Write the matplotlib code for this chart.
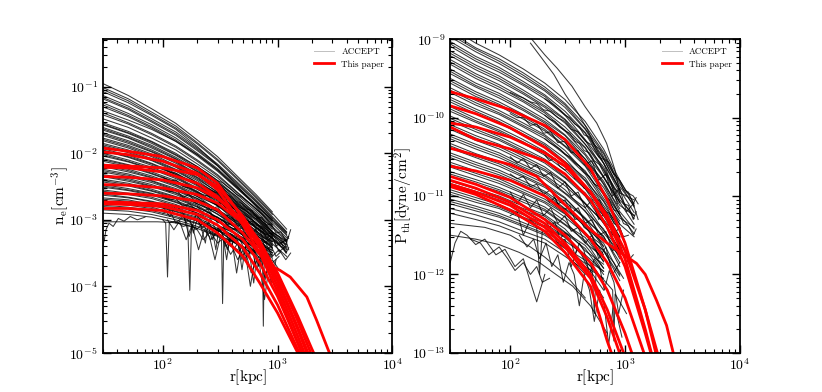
import numpy as np
import matplotlib
matplotlib.use("Agg")
import matplotlib.pyplot as plt
from matplotlib.lines import Line2D

plt.rcParams.update({
    "font.family": "serif",
    "font.serif": ["cmr10"],
    "mathtext.fontset": "cm",
    "axes.formatter.use_mathtext": True,
    "axes.unicode_minus": False,
})
nan = np.nan

# ---------------- ACCEPT density profiles (log10 n_e [cm^-3]) ----------------
accept_r = [30, 50, 80, 130, 200, 300, 450, 650, 900, 1200]
accept_logne = [
    [-0.95, -1.13, -1.33, -1.55, -1.80, -2.05, -2.35, -2.62, -2.88, nan],
    [-1.01, -1.18, -1.38, -1.59, -1.84, -2.09, -2.38, -2.65, -2.90, -3.14],
    [-1.04, -1.21, -1.41, -1.62, -1.86, -2.11, -2.40, -2.67, -2.92, nan],
    [-1.07, -1.24, -1.43, -1.64, -1.90, -2.18, -2.50, -2.80, -3.10, nan],
    [-1.13, -1.29, -1.48, -1.68, -1.92, -2.16, -2.44, -2.70, -2.95, -3.18],
    [-1.16, -1.32, -1.51, -1.71, -1.94, -2.18, -2.46, -2.72, -2.97, -3.19],
    [-1.18, -1.34, -1.53, -1.73, -1.96, -2.19, -2.48, -2.73, -2.98, nan],
    [-1.24, -1.40, -1.57, -1.77, -2.00, -2.23, -2.51, -2.76, -3.00, -3.22],
    [-1.27, -1.43, -1.60, -1.80, -2.02, -2.25, -2.53, -2.78, -3.01, nan],
    [-1.30, -1.45, -1.62, -1.82, -2.04, -2.27, -2.54, -2.79, -3.02, nan],
    [-1.36, -1.50, -1.64, -1.82, -2.02, -2.25, -2.52, -2.78, -3.00, -3.20],
    [-1.39, -1.54, -1.70, -1.89, -2.10, -2.32, -2.59, -2.83, -3.06, -3.27],
    [-1.42, -1.56, -1.72, -1.91, -2.12, -2.34, -2.60, -2.84, -3.07, nan],
    [-1.48, -1.61, -1.77, -1.95, -2.16, -2.37, -2.63, -2.87, -3.10, -3.30],
    [-1.54, -1.67, -1.82, -2.00, -2.20, -2.41, -2.67, -2.90, -3.12, -3.32],
    [-1.56, -1.69, -1.83, -2.02, -2.20, -2.44, -2.66, -2.93, -3.10, nan],
    [-1.57, -1.70, -1.85, -2.03, -2.23, -2.43, -2.69, -2.95, -3.14, nan],
    [-1.61, -1.74, -1.88, -2.06, -2.25, -2.46, -2.71, -2.92, -3.18, -3.34],
    [-1.63, -1.76, -1.90, -2.08, -2.27, -2.45, -2.74, -2.93, -3.19, -3.32],
    [-1.65, -1.77, -1.92, -2.09, -2.28, -2.48, -2.76, -2.95, -3.17, nan],
    [-1.69, -1.81, -1.95, -2.12, -2.31, -2.51, -2.75, -2.99, -3.18, -3.40],
    [-1.71, -1.83, -1.97, -2.13, -2.33, -2.50, -2.79, -2.96, -3.22, nan],
    [-1.73, -1.85, -1.98, -2.15, -2.33, -2.55, -2.77, -2.99, -3.23, nan],
    [-1.77, -1.88, -2.01, -2.18, -2.36, -2.55, -2.82, -3.01, -3.22, -3.37],
    [-1.79, -1.90, -2.03, -2.20, -2.37, -2.59, -2.78, -3.05, -3.20, -3.44],
    [-1.81, -1.92, -2.05, -2.21, -2.39, -2.58, -2.81, -3.06, -3.23, nan],
    [-1.85, -1.95, -2.08, -2.24, -2.41, -2.62, -2.83, -3.05, -3.28, -3.42],
    [-1.87, -1.97, -2.10, -2.25, -2.44, -2.60, -2.87, -3.04, -3.29, nan],
    [-1.89, -1.99, -2.11, -2.27, -2.44, -2.63, -2.88, -3.07, -3.26, nan],
    [-1.93, -2.03, -2.15, -2.30, -2.47, -2.65, -2.88, -3.12, -3.28, -3.48],
    [-1.95, -2.05, -2.16, -2.32, -2.47, -2.69, -2.87, -3.12, -3.27, -3.50],
    [-1.96, -2.06, -2.18, -2.32, -2.49, -2.70, -2.90, -3.10, -3.33, nan],
    [-2.00, -2.10, -2.21, -2.35, -2.52, -2.70, -2.95, -3.12, -3.31, -3.45],
    [-2.02, -2.12, -2.23, -2.36, -2.54, -2.69, -2.96, -3.11, -3.36, nan],
    [-2.04, -2.13, -2.24, -2.38, -2.54, -2.72, -2.94, -3.17, -3.33, nan],
    [-2.08, -2.17, -2.28, -2.41, -2.57, -2.78, -2.96, -3.16, -3.38, nan],
    [-2.10, -2.18, -2.30, -2.43, -2.58, -2.79, -2.95, -3.21, -3.33, nan],
    [-2.12, -2.20, -2.31, -2.44, -2.60, -2.77, -3.01, -3.18, -3.36, -3.55],
    [-2.16, -2.24, -2.34, -2.47, -2.62, -2.79, -3.00, -3.24, -3.38, nan],
    [-2.18, -2.26, -2.36, -2.48, -2.65, -2.78, -3.05, -3.19, -3.42, nan],
    [-2.20, -2.28, -2.37, -2.50, -2.65, -2.85, -3.02, -3.22, -3.43, nan],
    [-2.24, -2.31, -2.41, -2.53, -2.68, -2.84, -3.07, -3.23, -3.41, nan],
    [-2.26, -2.33, -2.42, -2.55, -2.68, -2.88, -3.03, -3.28, -3.39, nan],
    [-2.28, -2.35, -2.44, -2.56, -2.70, -2.87, -3.06, -3.29, -3.46, nan],
    [-2.32, -2.38, -2.47, -2.59, -2.73, -2.92, -3.09, -3.27, nan, nan],
    [-2.34, -2.40, -2.49, -2.60, -2.76, -2.88, -3.14, -3.26, -3.50, nan],
    [-2.35, -2.42, -2.50, -2.62, -2.76, -2.91, -3.15, -3.29, -3.50, nan],
    [-2.39, -2.45, -2.54, -2.65, -2.78, -2.97, -3.13, -3.35, nan, nan],
    [-2.41, -2.47, -2.56, -2.66, -2.80, -2.97, -3.12, -3.36, -3.46, nan],
    [-2.43, -2.49, -2.57, -2.68, -2.81, -2.96, -3.19, -3.33, -3.53, nan],
    [-2.47, -2.53, -2.60, -2.71, -2.84, -3.02, -3.17, -3.39, nan, nan],
    [-2.49, -2.55, -2.61, -2.73, -2.84, -3.03, -3.16, -3.40, -3.49, nan],
    [-2.51, -2.56, -2.63, -2.74, -2.86, -3.01, -3.23, -3.36, -3.56, nan],
    [-2.55, -2.60, -2.66, -2.77, -2.90, -3.02, -3.25, -3.36, -3.58, nan],
    [-2.57, -2.62, -2.68, -2.79, -2.90, -3.08, -3.22, -3.44, nan, nan],
    [-2.61, -2.66, -2.72, -2.81, -2.93, -3.09, -3.22, -3.45, -3.53, nan],
    [-2.63, -2.67, -2.73, -2.83, -2.94, -3.08, -3.29, -3.42, nan, nan],
    [-2.67, -2.70, -2.77, -2.87, -2.96, -3.13, -3.26, -3.48, nan, nan],
    [-2.69, -2.72, -2.78, -2.88, -2.98, -3.16, -3.28, -3.50, nan, nan],
    [-2.72, -2.76, -2.81, -2.91, -3.00, -3.16, -3.29, -3.50, nan, nan],
    [-2.74, -2.78, -2.83, -2.92, -3.02, -3.15, -3.37, nan, nan, nan],
    [-2.78, -2.81, -2.86, -2.95, -3.05, -3.15, -3.38, -3.47, nan, nan],
    [-2.80, -2.83, -2.88, -2.97, -3.06, -3.23, -3.35, -3.55, nan, nan],
    [-2.85, -2.87, -2.92, -3.00, -3.10, -3.24, -3.36, -3.56, nan, nan],
    [-2.90, -2.92, -2.96, -3.04, -3.13, -3.25, -3.45, nan, nan, nan],
]
# noisier ACCEPT density profiles, each with its own radii
accept_ne_noisy_r = [
    [100, 115, 130, 150, 170, 195, 225, 260, 300, 340, 390, 450, 515, 590, 680, 780, 900, 1030, 1180],
    [100, 115, 130, 150, 170, 195, 225, 260, 300, 340, 390, 450, 515, 590, 680, 780, 900, 1030],
    [100, 106, 110, 114, 130, 150, 165, 172, 178, 195, 225, 260, 300, 325, 332, 340, 390, 450, 515, 590, 680, 740, 752, 765, 900, 1030],
    [100, 115, 130, 150, 170, 195, 225, 260, 300, 340, 390, 450, 515, 590, 680, 780, 900, 1030, 1180, 1300],
    [100, 115, 130, 150, 170, 195, 225, 260, 300, 340, 390, 450, 515, 590, 680, 780, 900, 1030, 1180],
    [100, 115, 130, 150, 170, 195, 225, 260, 300, 340, 390, 450, 515, 590, 680, 780, 900, 1030],
    [100, 115, 130, 150, 170, 195, 225, 260, 300, 340, 390, 450, 515, 590, 680, 780, 900, 1030, 1180, 1300],
    [150, 160, 170, 185, 200, 215, 235, 250, 270, 290, 310, 335, 360, 390, 420, 450, 490, 530, 570, 620, 670, 720, 780, 850, 920],
    [110, 125, 140, 160, 180, 205, 230, 255, 285, 320, 355, 400, 440, 480, 530, 580, 640, 700, 770, 850],
    [30, 60, 90, 120, 150, 180],
    [30, 31, 32, 34, 37, 41, 46, 52, 60, 70],
    [200, 220, 245, 270, 300, 330, 365, 400, 440, 490, 540, 600, 660, 730, 800, 880, 970, 1070, 1180, 1250],
    [200, 220, 245, 270, 300, 330, 365, 400, 440, 490, 540, 600, 660, 730, 800, 880, 970, 1070, 1180, 1250],
    [200, 220, 245, 270, 300, 330, 365, 400, 440, 490, 540, 600, 660, 730, 800, 880, 970, 1070],
    [200, 220, 245, 270, 300, 330, 365, 400, 440, 490, 540, 600, 660, 730, 800, 880, 970, 1070, 1180, 1250],
    [200, 220, 245, 270, 300, 330, 365, 400, 440, 490, 540, 600, 660, 730, 800, 880, 970],
    [200, 220, 245, 270, 300, 330, 365, 400, 440, 490, 540, 600, 660, 730, 800, 880, 970, 1070, 1180, 1250],
]
accept_ne_noisy_logn = [
    [-2.52, -2.58, -2.55, -2.66, -2.62, -2.75, -2.72, -2.85, -2.80, -2.95, -2.92, -3.10, -3.02, -3.20, -3.12, -3.35, -3.25, -3.48, -3.40],
    [-2.80, -2.95, -2.78, -2.90, -3.25, -2.92, -3.05, -2.98, -3.20, -3.10, -3.40, -3.22, -3.45, -3.30, -3.70, -3.45, -3.65, -3.55],
    [-3.00, -3.05, -3.86, -3.04, -3.02, -3.10, -3.08, -4.06, -3.10, -3.12, -3.30, -3.18, -3.35, -3.30, -4.26, -3.32, -3.35, -3.60, -3.42, -3.80, -3.55, -3.60, -4.60, -3.65, -3.70, -3.85],
    [-2.66, -2.70, -2.68, -2.80, -2.76, -2.85, -2.92, -2.88, -3.05, -3.00, -3.15, -3.12, -3.28, -3.22, -3.40, -3.33, -3.55, -3.45, -3.60, -3.50],
    [-2.36, -2.42, -2.40, -2.50, -2.52, -2.58, -2.62, -2.66, -2.75, -2.72, -2.86, -2.90, -2.98, -3.05, -3.10, -3.22, -3.20, -3.38, -3.30],
    [-2.90, -2.86, -3.05, -2.95, -3.02, -3.15, -3.05, -3.30, -3.18, -3.30, -3.52, -3.35, -3.60, -3.45, -3.55, -3.85, -3.60, -3.75],
    [-2.22, -2.28, -2.30, -2.36, -2.40, -2.45, -2.50, -2.56, -2.60, -2.68, -2.72, -2.80, -2.85, -2.95, -3.00, -3.10, -3.18, -3.25, -3.38, -3.15],
    [-2.92, -3.05, -2.95, -3.20, -2.98, -3.10, -3.35, -3.02, -3.15, -3.45, -3.10, -3.25, -3.60, -3.20, -3.35, -3.30, -3.75, -3.35, -3.50, -3.95, -3.45, -3.60, -3.90, -3.55, -3.70],
    [-3.00, -3.15, -3.02, -3.30, -3.08, -3.45, -3.15, -3.25, -3.60, -3.22, -3.40, -3.30, -3.80, -3.40, -3.55, -4.00, -3.55, -3.70, -4.20, -3.65],
    [-3.03, -3.03, -3.03, -3.04, -3.06, -3.10],
    [-3.40, -3.30, -3.15, -3.05, -3.10, -2.98, -3.02, -2.95, -3.00, -2.96],
    [-2.60, -2.66, -2.63, -2.72, -2.77, -2.74, -2.86, -2.84, -2.95, -2.92, -3.05, -3.02, -3.18, -3.12, -3.28, -3.22, -3.40, -3.33, -3.50, -3.42],
    [-2.33, -2.38, -2.40, -2.46, -2.53, -2.52, -2.62, -2.66, -2.72, -2.76, -2.84, -2.86, -2.98, -2.96, -3.08, -3.06, -3.20, -3.18, -3.32, -3.25],
    [-2.80, -2.88, -2.84, -2.95, -2.96, -3.00, -3.08, -3.04, -3.15, -3.12, -3.25, -3.20, -3.35, -3.30, -3.45, -3.40, -3.55, -3.48],
    [-2.47, -2.50, -2.56, -2.58, -2.65, -2.68, -2.74, -2.80, -2.84, -2.90, -2.95, -3.00, -3.08, -3.10, -3.18, -3.22, -3.28, -3.35, -3.30, -3.45],
    [-3.00, -3.12, -3.05, -3.30, -3.12, -3.20, -3.45, -3.22, -3.30, -3.60, -3.35, -3.45, -3.75, -3.50, -3.60, -3.95, -3.60],
    [-2.20, -2.25, -2.30, -2.35, -2.41, -2.44, -2.50, -2.55, -2.62, -2.66, -2.72, -2.78, -2.85, -2.90, -2.96, -3.02, -3.08, -3.15, -3.22, -3.28],
]

# ---------------- ACCEPT pressure profiles (log10 P [dyne/cm^2]) ----------------
accept_logp = [
    [-8.85, -9.05, -9.20, -9.38, -9.56, -9.77, -10.05, -10.40, -10.80, -11.10],
    [-8.91, -9.11, -9.25, -9.43, -9.61, -9.82, -10.10, -10.44, -10.84, -11.14],
    [-8.94, -9.13, -9.28, -9.46, -9.64, -9.84, -10.14, -10.46, -10.88, -11.12],
    [-8.97, -9.16, -9.31, -9.49, -9.66, -9.87, -10.15, -10.52, -10.92, nan],
    [-9.03, -9.22, -9.36, -9.54, -9.71, -9.92, -10.19, -10.53, -10.92, -11.21],
    [-9.06, -9.25, -9.39, -9.57, -9.73, -9.96, -10.20, -10.58, -10.92, nan],
    [-9.09, -9.28, -9.42, -9.59, -9.76, -9.97, -10.28, -10.58, -10.96, -11.05],
    [-9.15, -9.33, -9.47, -9.65, -9.82, -10.02, -10.29, -10.66, -11.00, -11.29],
    [-9.18, -9.36, -9.50, -9.68, -9.85, -10.03, -10.34, -10.63, -11.05, -11.25],
    [-9.21, -9.39, -9.53, -9.70, -9.87, -10.07, -10.34, -10.67, -11.08, nan],
    [-9.26, -9.44, -9.58, -9.75, -9.92, -10.12, -10.38, -10.75, -11.08, -11.36],
    [-9.29, -9.47, -9.61, -9.78, -9.94, -10.16, -10.39, -10.76, -11.08, nan],
    [-9.32, -9.50, -9.64, -9.80, -9.97, -10.17, -10.46, -10.76, -11.12, -11.25],
    [-9.38, -9.56, -9.69, -9.86, -10.02, -10.22, -10.48, -10.84, -11.16, nan],
    [-9.41, -9.59, -9.72, -9.89, -10.05, -10.23, -10.53, -10.81, -11.20, -11.42],
    [-9.44, -9.61, -9.75, -9.91, -10.07, -10.27, -10.53, -10.85, -11.24, -11.48],
    [-9.50, -9.67, -9.80, -9.96, -10.12, -10.32, -10.61, -10.89, -11.24, nan],
    [-9.53, -9.70, -9.83, -9.99, -10.15, -10.36, -10.58, -10.94, -11.24, nan],
    [-9.56, -9.73, -9.85, -10.02, -10.17, -10.37, -10.62, -10.97, -11.28, -11.40],
    [-9.62, -9.78, -9.91, -10.07, -10.22, -10.42, -10.70, -10.98, -11.36, nan],
    [-9.65, -9.81, -9.94, -10.10, -10.24, -10.46, -10.68, -11.03, -11.32, nan],
    [-9.68, -9.84, -9.96, -10.12, -10.27, -10.47, -10.72, -11.06, -11.36, -11.52],
    [-9.74, -9.89, -10.02, -10.18, -10.33, -10.52, -10.80, -11.07, -11.44, nan],
    [-9.77, -9.92, -10.05, -10.21, -10.35, -10.56, -10.77, -11.12, -11.40, nan],
    [-9.80, -9.95, -10.07, -10.23, -10.38, -10.57, -10.81, -11.15, -11.44, nan],
    [-9.86, -10.01, -10.13, -10.28, -10.43, -10.62, -10.90, -11.16, -11.52, nan],
    [-9.89, -10.04, -10.16, -10.31, -10.46, -10.63, -10.90, -11.16, -11.53, nan],
    [-9.92, -10.06, -10.18, -10.33, -10.48, -10.67, -10.91, -11.25, -11.52, nan],
    [-9.98, -10.12, -10.24, -10.39, -10.53, -10.72, -11.00, -11.25, -11.60, nan],
    [-10.01, -10.15, -10.27, -10.42, -10.55, -10.76, -10.96, -11.30, -11.56, nan],
    [-10.04, -10.18, -10.29, -10.44, -10.58, -10.77, -11.00, -11.35, -11.60, nan],
    [-10.09, -10.23, -10.34, -10.49, -10.63, -10.82, -11.10, -11.33, -11.70, nan],
    [-10.12, -10.26, -10.37, -10.52, -10.66, -10.83, -11.09, -11.34, -11.69, nan],
    [-10.15, -10.29, -10.40, -10.55, -10.68, -10.87, -11.10, -11.44, -11.68, nan],
    [-10.21, -10.34, -10.45, -10.60, -10.73, -10.92, -11.20, -11.42, -11.80, nan],
    [-10.24, -10.37, -10.48, -10.63, -10.75, -10.96, -11.15, -11.47, -11.72, nan],
    [-10.27, -10.40, -10.51, -10.65, -10.78, -10.97, -11.19, -11.55, -11.76, nan],
    [-10.33, -10.46, -10.56, -10.71, -10.84, -11.02, -11.30, -11.51, -11.90, nan],
    [-10.36, -10.49, -10.59, -10.74, -10.87, -11.03, -11.28, -11.52, -11.85, nan],
    [-10.39, -10.51, -10.62, -10.76, -10.89, -11.07, -11.29, -11.64, nan, nan],
    [-10.45, -10.57, -10.67, -10.81, -10.94, -11.12, -11.40, -11.60, -12.00, nan],
    [-10.48, -10.60, -10.70, -10.84, -10.96, -11.16, -11.34, -11.65, nan, nan],
    [-10.51, -10.63, -10.73, -10.86, -10.99, -11.17, -11.38, -11.75, nan, nan],
    [-10.57, -10.68, -10.78, -10.92, -11.04, -11.22, -11.50, -11.69, -12.08, nan],
    [-10.60, -10.71, -10.81, -10.95, -11.07, -11.23, -11.47, -11.70, -12.02, nan],
    [-10.63, -10.74, -10.84, -10.97, -11.09, -11.27, -11.48, -11.84, nan, nan],
    [-10.69, -10.79, -10.89, -11.02, -11.14, -11.32, -11.60, -11.78, -12.16, nan],
    [-10.72, -10.82, -10.92, -11.05, -11.17, -11.36, -11.53, -11.83, nan, nan],
    [-10.75, -10.85, -10.94, -11.08, -11.19, -11.37, -11.57, -11.92, nan, nan],
    [-10.81, -10.91, -11.00, -11.13, -11.24, -11.42, -11.70, -11.87, nan, nan],
    [-10.84, -10.94, -11.03, -11.16, -11.26, -11.46, -11.63, -11.92, nan, nan],
    [-10.86, -10.96, -11.05, -11.18, -11.29, -11.47, -11.67, -12.00, nan, nan],
    [-10.92, -11.02, -11.11, -11.24, -11.35, -11.52, -11.80, -11.96, nan, nan],
    [-10.95, -11.05, -11.14, -11.27, -11.38, -11.53, -11.75, -11.96, nan, nan],
    [-10.98, -11.08, -11.16, -11.29, -11.40, -11.57, -11.76, -12.10, nan, nan],
    [-11.04, -11.13, -11.22, -11.34, -11.45, -11.62, -11.90, -12.05, nan, nan],
    [-11.07, -11.16, -11.25, -11.37, -11.48, -11.66, -11.82, -12.10, nan, nan],
    [-11.10, -11.19, -11.27, -11.39, -11.50, -11.67, -11.86, -12.20, nan, nan],
    [-11.16, -11.24, -11.33, -11.45, -11.55, -11.72, -12.00, nan, nan, nan],
    [-11.22, -11.30, -11.38, -11.50, -11.60, -11.77, -11.95, -12.30, nan, nan],
]
accept_p_noisy_r = [
    [100, 115, 130, 150, 170, 195, 225, 260, 300, 340, 390, 450, 515, 590, 680, 780, 900, 1030, 1180, 1300],
    [100, 115, 130, 150, 170, 195, 225, 260, 300, 340, 390, 450, 515, 590, 680, 780, 900, 1030],
    [100, 115, 130, 150, 170, 195, 225, 260, 300, 340, 390, 450, 515, 590, 680, 780, 900],
    [100, 115, 130, 150, 170, 180, 190, 225, 260, 300, 340, 390, 450, 515, 540, 560, 590, 680, 780, 800, 820, 900, 1030],
    [100, 115, 130, 150, 170, 195, 225, 260, 300, 340, 390, 450, 515, 590, 680, 780, 900, 1030, 1180],
    [100, 115, 130, 150, 170, 195, 225, 260, 300, 340, 390, 450, 515, 590, 680, 780, 900, 1030, 1180, 1300],
    [120, 140, 160, 180, 205, 230, 260, 290, 325, 360, 400, 440, 490, 540, 600, 660, 720, 790, 860, 940],
    [30, 33, 37, 42, 50, 60, 75, 90, 110, 130, 150, 170, 200],
    [30, 60, 100, 150, 200, 300, 450],
    [30, 50, 80, 120, 180, 250, 350, 500, 700],
    [45, 55, 65, 80, 95, 110, 130, 150, 170, 190, 220],
    [154, 200, 256, 345, 448, 567, 692, 818, 905],
    [150, 190, 240, 300, 380, 470, 560, 660, 760, 860],
    [200, 220, 245, 270, 300, 330, 365, 400, 440, 490, 540, 600, 660, 730, 800, 880, 970, 1070, 1180, 1250],
    [200, 220, 245, 270, 300, 330, 365, 400, 440, 490, 540, 600, 660, 730, 800, 880, 970, 1070],
    [200, 220, 245, 270, 300, 330, 365, 400, 440, 490, 540, 600, 660, 730, 800, 880, 970],
    [200, 220, 245, 270, 300, 330, 365, 400, 440, 490, 540, 600, 660, 730, 800, 880, 970, 1070, 1180, 1250],
    [200, 220, 245, 270, 300, 330, 365, 400, 440, 490, 540, 600, 660, 730, 800, 880, 970],
    [200, 220, 245, 270, 300, 330, 365, 400, 440, 490, 540, 600, 660, 730, 800, 880, 970, 1070, 1180, 1250],
]
accept_p_noisy_logp = [
    [-9.95, -10.00, -10.00, -10.10, -10.08, -10.20, -10.18, -10.32, -10.30, -10.45, -10.42, -10.60, -10.55, -10.80, -10.72, -11.00, -10.90, -11.20, -11.10, -11.30],
    [-10.50, -10.58, -10.52, -10.65, -10.60, -10.75, -10.70, -10.90, -10.82, -11.00, -10.95, -11.15, -11.05, -11.30, -11.20, -11.50, -11.40, -11.65],
    [-10.95, -11.10, -10.98, -11.15, -11.05, -11.25, -11.15, -11.35, -11.25, -11.45, -11.40, -11.60, -11.50, -11.80, -11.65, -12.00, -11.85],
    [-11.25, -11.20, -11.50, -11.30, -11.40, -12.00, -11.45, -11.45, -11.60, -11.55, -11.90, -11.65, -11.85, -11.90, -12.50, -11.95, -12.00, -12.10, -12.20, -12.85, -12.25, -12.35, -12.50],
    [-10.72, -10.78, -10.75, -10.88, -10.85, -10.98, -10.92, -11.10, -11.05, -11.22, -11.15, -11.35, -11.30, -11.50, -11.45, -11.70, -11.60, -11.85, -11.75],
    [-9.68, -9.72, -9.75, -9.80, -9.82, -9.90, -9.92, -10.00, -10.05, -10.15, -10.18, -10.30, -10.35, -10.50, -10.55, -10.70, -10.80, -10.95, -11.00, -11.10],
    [-11.50, -11.65, -11.55, -11.80, -11.60, -11.90, -11.75, -12.10, -11.85, -12.00, -12.40, -12.00, -12.20, -12.60, -12.20, -12.40, -12.90, -12.40, -12.55, -12.80],
    [-11.85, -11.60, -11.45, -11.50, -11.62, -11.55, -11.75, -11.68, -11.90, -11.80, -12.10, -12.35, -12.00],
    [-11.35, -11.40, -11.50, -11.65, -11.78, -12.00, -12.30],
    [-11.50, -11.55, -11.62, -11.72, -11.85, -12.00, -12.15, -12.40, -12.75],
    [-11.55, -11.60, -11.75, -11.65, -11.80, -11.95, -11.85, -12.00, -11.90, -12.10, -12.05],
    [-9.00, -9.20, -9.37, -9.60, -9.86, -10.07, -10.33, -10.67, -10.97],
    [-9.05, -9.25, -9.45, -9.70, -9.92, -10.15, -10.40, -10.60, -10.85, -11.10],
    [-9.97, -10.02, -10.05, -10.12, -10.17, -10.20, -10.30, -10.33, -10.42, -10.45, -10.55, -10.60, -10.72, -10.78, -10.90, -10.95, -11.10, -11.12, -11.30, -11.20],
    [-10.48, -10.55, -10.52, -10.62, -10.67, -10.65, -10.78, -10.80, -10.90, -10.92, -11.05, -11.05, -11.20, -11.22, -11.35, -11.38, -11.52, -11.50],
    [-10.99, -11.08, -11.02, -11.15, -11.17, -11.12, -11.30, -11.28, -11.40, -11.45, -11.55, -11.60, -11.70, -11.78, -11.85, -11.95, -12.05],
    [-10.27, -10.32, -10.36, -10.40, -10.47, -10.50, -10.58, -10.62, -10.70, -10.75, -10.85, -10.88, -11.00, -11.05, -11.18, -11.20, -11.35, -11.38, -11.50, -11.42],
    [-11.29, -11.40, -11.33, -11.55, -11.47, -11.52, -11.75, -11.60, -11.70, -12.00, -11.80, -11.90, -12.20, -11.95, -12.10, -12.50, -12.20],
    [-9.76, -9.80, -9.85, -9.90, -9.97, -10.00, -10.08, -10.12, -10.22, -10.25, -10.35, -10.40, -10.52, -10.58, -10.72, -10.78, -10.92, -10.95, -11.10, -11.02],
]

# ---------------- This paper (log10 values) ----------------
paper_r = [30, 50, 100, 200, 300, 500, 700, 1000, 1500, 2000, 3000]
paper_logne = [
    [-1.92, -1.97, -2.05, -2.22, -2.45, -2.98, -3.42, -4.00, -4.75, -5.30, nan],
    [-1.98, -2.02, -2.12, -2.30, -2.55, -3.08, -3.50, -4.08, -4.85, -5.40, nan],
    [-2.18, -2.19, -2.22, -2.32, -2.50, -2.95, -3.35, -3.90, -4.62, -5.15, nan],
    [-2.21, -2.22, -2.28, -2.45, -2.65, -3.05, -3.40, -3.92, -4.65, -5.20, nan],
    [-2.35, -2.36, -2.40, -2.52, -2.68, -3.00, -3.32, -3.82, -4.52, -5.05, nan],
    [-2.47, -2.48, -2.52, -2.62, -2.75, -3.05, -3.35, -3.80, -4.45, -4.95, -5.60],
    [-2.73, -2.74, -2.76, -2.86, -3.00, -3.30, -3.65, -4.15, -4.85, -5.35, nan],
    [-2.76, -2.77, -2.80, -2.92, -3.08, -3.42, -3.80, -4.28, -4.95, -5.40, nan],
    [-2.83, -2.83, -2.86, -3.00, -3.20, -3.55, -3.95, -4.40, -5.00, -5.50, nan],
]
paper_bump_ne_r = [30, 50, 100, 200, 300, 500, 700, 920, 1050, 1290, 1800, 2190, 2770, 3000]
paper_bump_logne = [-2.60, -2.61, -2.64, -2.72, -2.85, -3.20, -3.52, -3.71, -3.76, -3.86, -4.16, -4.51, -4.96, -5.10]

paper_logp = [
    [-9.67, -9.76, -9.90, -10.10, -10.28, -10.65, -11.05, -11.60, -12.45, -13.20, nan],
    [-9.85, -9.95, -10.13, -10.38, -10.58, -10.95, -11.30, -11.80, -12.70, -13.40, nan],
    [-10.07, -10.12, -10.25, -10.45, -10.62, -10.95, -11.25, -11.70, -12.45, -13.10, nan],
    [-10.12, -10.28, -10.40, -10.55, -10.72, -11.05, -11.40, -11.90, -12.75, -13.40, nan],
    [-10.62, -10.68, -10.80, -11.00, -11.20, -11.55, -11.85, -12.30, -13.05, nan, nan],
    [-10.75, -10.85, -11.02, -11.30, -11.50, -11.85, -12.20, -12.75, -13.50, nan, nan],
    [-10.80, -10.90, -11.08, -11.35, -11.60, -12.00, -12.45, -13.05, nan, nan, nan],
    [-10.85, -10.95, -11.12, -11.40, -11.65, -12.05, -12.55, -13.20, nan, nan, nan],
    [-10.88, -10.98, -11.18, -11.45, -11.72, -12.15, -12.85, -13.50, nan, nan, nan],
]
paper_bump_p_r = [30, 50, 100, 170, 290, 500, 740, 1000, 1260, 1500, 1880, 2300, 2630, 3000]
paper_bump_logp = [-10.39, -10.48, -10.60, -10.75, -11.09, -11.43, -11.63, -11.76, -11.86, -12.00, -12.33, -12.65, -13.00, -13.30]

# ---------------- plotting ----------------
fig, (ax1, ax2) = plt.subplots(1, 2, figsize=(8.22, 3.92), dpi=100)
fig.subplots_adjust(left=0.125, right=0.9, bottom=0.1, top=0.9, wspace=0.2)

acc_kw = dict(color="k", lw=0.75, alpha=0.78)
red_kw = dict(color="red", lw=2.0)

for row in accept_logne:
    ax1.plot(accept_r, 10 ** np.array(row), **acc_kw)
for rr, vv in zip(accept_ne_noisy_r, accept_ne_noisy_logn):
    ax1.plot(rr, 10 ** np.array(vv), **acc_kw)
for row in paper_logne:
    ax1.plot(paper_r, 10 ** np.array(row), **red_kw)
ax1.plot(paper_bump_ne_r, 10 ** np.array(paper_bump_logne), **red_kw)

for row in accept_logp:
    ax2.plot(accept_r, 10 ** np.array(row), **acc_kw)
for rr, vv in zip(accept_p_noisy_r, accept_p_noisy_logp):
    ax2.plot(rr, 10 ** np.array(vv), **acc_kw)
for row in paper_logp:
    ax2.plot(paper_r, 10 ** np.array(row), **red_kw)
ax2.plot(paper_bump_p_r, 10 ** np.array(paper_bump_logp), **red_kw)

for ax in (ax1, ax2):
    ax.set_xscale("log")
    ax.set_yscale("log")
    ax.set_xlim(30, 1e4)
    ax.tick_params(which="both", direction="in", top=True, right=True, labelsize=10)
    ax.tick_params(which="major", length=6, width=1.0)
    ax.tick_params(which="minor", length=3, width=0.8)
    for s in ax.spines.values():
        s.set_linewidth(1.3)
    ax.set_xlabel(r"$\mathrm{r[kpc]}$", fontsize=11, labelpad=-4)
    handles = [Line2D([], [], color="k", alpha=0.25, lw=0.7),
               Line2D([], [], color="red", lw=2.0)]
    ax.legend(handles, ["ACCEPT", "This paper"], loc="upper right",
              frameon=False, fontsize=6.5, handlelength=2.2)

ax1.set_ylim(1e-5, 0.52)
ax2.set_ylim(1e-13, 1e-9)
ax1.set_ylabel(r"$\mathrm{n_e[cm^{-3}]}$", fontsize=11, labelpad=-1)
ax2.set_ylabel(r"$\mathrm{P_{th}[dyne/cm^2]}$", fontsize=11, labelpad=-2)

fig.savefig("out.png", dpi=100)
